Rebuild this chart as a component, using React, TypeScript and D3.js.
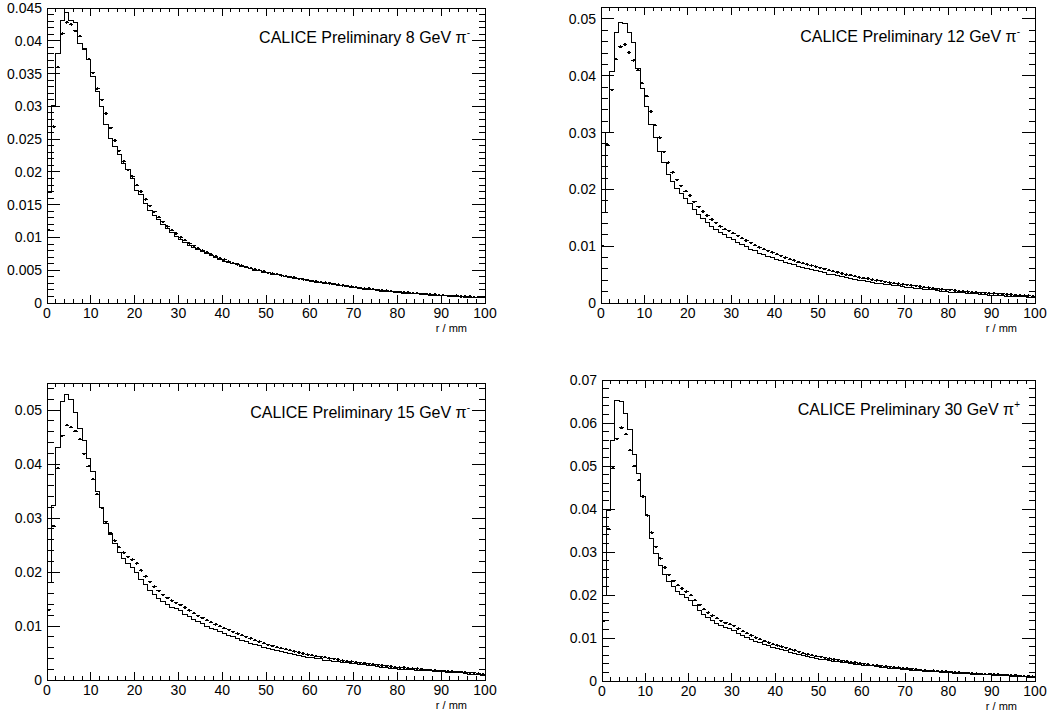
import React from "react";
import * as d3 from "d3";

// ---------- data (bin contents, 1 mm bins from 0 to 100 mm) ----------
const hist8 = [
  0.0168, 0.0302, 0.0381, 0.0431, 0.0443, 0.0431, 0.0428, 0.0396, 0.0388, 0.0372,
  0.0345, 0.0322, 0.0299, 0.0273, 0.0251, 0.0238, 0.0226, 0.0213, 0.0203, 0.0190,
  0.0172, 0.0165, 0.0152, 0.0141, 0.0134, 0.0127, 0.0119, 0.0113, 0.0108, 0.0102,
  0.0097, 0.0093, 0.0088, 0.0085, 0.0081, 0.0078, 0.0075, 0.0072, 0.0069, 0.0066,
  0.0064, 0.0062, 0.0060, 0.0058, 0.0056, 0.0054, 0.0052, 0.0050, 0.0049, 0.0047,
  0.0046, 0.0044, 0.0043, 0.0042, 0.0040, 0.0039, 0.0038, 0.0037, 0.0036, 0.0035,
  0.0033, 0.0032, 0.0031, 0.0030, 0.0029, 0.0028, 0.0027, 0.0026, 0.0025, 0.0024,
  0.0023, 0.0022, 0.0021, 0.0021, 0.0020, 0.0019, 0.0018, 0.0018, 0.0017, 0.0016,
  0.0016, 0.0015, 0.0015, 0.0014, 0.0014, 0.0013, 0.0013, 0.0012, 0.0012, 0.0011,
  0.0011, 0.0011, 0.0010, 0.0010, 0.0010, 0.0009, 0.0009, 0.0009, 0.0008, 0.0008,
];
const data8 = [
  0.0111, 0.0269, 0.0360, 0.0411, 0.0428, 0.0425, 0.0415, 0.0407, 0.0387, 0.0372,
  0.0351, 0.0327, 0.0310, 0.0289, 0.0267, 0.0248, 0.0232, 0.0216, 0.0203, 0.0193,
  0.0180, 0.0170, 0.0158, 0.0148, 0.0139, 0.0131, 0.0124, 0.0117, 0.0111, 0.0106,
  0.0100, 0.0096, 0.0091, 0.0087, 0.0083, 0.0080, 0.0077, 0.0074, 0.0071, 0.0068,
  0.0066, 0.0063, 0.0061, 0.0059, 0.0057, 0.0055, 0.0053, 0.0051, 0.0050, 0.0048,
  0.0046, 0.0045, 0.0044, 0.0042, 0.0041, 0.0040, 0.0039, 0.0037, 0.0036, 0.0035,
  0.0034, 0.0033, 0.0032, 0.0031, 0.0030, 0.0029, 0.0028, 0.0027, 0.0026, 0.0025,
  0.0024, 0.0023, 0.0022, 0.0022, 0.0021, 0.0020, 0.0019, 0.0019, 0.0018, 0.0017,
  0.0017, 0.0016, 0.0016, 0.0015, 0.0015, 0.0014, 0.0014, 0.0013, 0.0013, 0.0012,
  0.0012, 0.0011, 0.0011, 0.0011, 0.0010, 0.0010, 0.0010, 0.0009, 0.0009, 0.0009,
];
const hist12 = [
  0.0160, 0.0300, 0.0407, 0.0476, 0.0493, 0.0492, 0.0476, 0.0458, 0.0413, 0.0378,
  0.0346, 0.0315, 0.0292, 0.0266, 0.0247, 0.0227, 0.0214, 0.0202, 0.0192, 0.0184,
  0.0176, 0.0165, 0.0156, 0.0148, 0.0141, 0.0135, 0.0129, 0.0124, 0.0120, 0.0116,
  0.0112, 0.0107, 0.0103, 0.0099, 0.0095, 0.0092, 0.0088, 0.0085, 0.0082, 0.0080,
  0.0077, 0.0074, 0.0072, 0.0069, 0.0067, 0.0065, 0.0063, 0.0061, 0.0059, 0.0057,
  0.0055, 0.0053, 0.0051, 0.0050, 0.0048, 0.0046, 0.0045, 0.0043, 0.0042, 0.0040,
  0.0039, 0.0038, 0.0036, 0.0035, 0.0034, 0.0033, 0.0032, 0.0031, 0.0030, 0.0029,
  0.0028, 0.0027, 0.0026, 0.0025, 0.0024, 0.0023, 0.0023, 0.0022, 0.0021, 0.0020,
  0.0019, 0.0019, 0.0018, 0.0018, 0.0017, 0.0016, 0.0016, 0.0015, 0.0015, 0.0014,
  0.0014, 0.0013, 0.0013, 0.0012, 0.0012, 0.0012, 0.0011, 0.0011, 0.0010, 0.0010,
];
const data12 = [
  0.0100, 0.0278, 0.0375, 0.0429, 0.0451, 0.0455, 0.0441, 0.0427, 0.0410, 0.0387,
  0.0364, 0.0337, 0.0313, 0.0291, 0.0266, 0.0247, 0.0230, 0.0217, 0.0206, 0.0197,
  0.0189, 0.0178, 0.0169, 0.0161, 0.0154, 0.0147, 0.0141, 0.0135, 0.0130, 0.0127,
  0.0123, 0.0118, 0.0114, 0.0110, 0.0106, 0.0102, 0.0098, 0.0095, 0.0092, 0.0089,
  0.0086, 0.0083, 0.0080, 0.0077, 0.0075, 0.0072, 0.0070, 0.0068, 0.0066, 0.0064,
  0.0062, 0.0060, 0.0058, 0.0056, 0.0054, 0.0052, 0.0050, 0.0049, 0.0047, 0.0045,
  0.0044, 0.0043, 0.0041, 0.0040, 0.0039, 0.0037, 0.0036, 0.0035, 0.0034, 0.0033,
  0.0032, 0.0031, 0.0030, 0.0029, 0.0028, 0.0027, 0.0026, 0.0025, 0.0024, 0.0023,
  0.0023, 0.0022, 0.0021, 0.0021, 0.0020, 0.0019, 0.0019, 0.0018, 0.0018, 0.0017,
  0.0017, 0.0016, 0.0016, 0.0015, 0.0015, 0.0014, 0.0014, 0.0013, 0.0013, 0.0012,
];
const hist15 = [
  0.0180, 0.0324, 0.0431, 0.0515, 0.0529, 0.0520, 0.0495, 0.0466, 0.0443, 0.0411,
  0.0386, 0.0350, 0.0319, 0.0290, 0.0269, 0.0252, 0.0237, 0.0225, 0.0215, 0.0209,
  0.0200, 0.0187, 0.0176, 0.0166, 0.0158, 0.0151, 0.0145, 0.0140, 0.0135, 0.0132,
  0.0128, 0.0122, 0.0117, 0.0112, 0.0108, 0.0104, 0.0100, 0.0096, 0.0093, 0.0090,
  0.0087, 0.0083, 0.0080, 0.0077, 0.0074, 0.0071, 0.0068, 0.0066, 0.0063, 0.0061,
  0.0059, 0.0057, 0.0055, 0.0053, 0.0051, 0.0049, 0.0047, 0.0045, 0.0044, 0.0042,
  0.0041, 0.0040, 0.0039, 0.0037, 0.0036, 0.0035, 0.0034, 0.0033, 0.0032, 0.0031,
  0.0030, 0.0029, 0.0028, 0.0027, 0.0026, 0.0025, 0.0024, 0.0023, 0.0022, 0.0021,
  0.0020, 0.0020, 0.0019, 0.0019, 0.0018, 0.0018, 0.0017, 0.0017, 0.0016, 0.0016,
  0.0015, 0.0014, 0.0014, 0.0013, 0.0013, 0.0012, 0.0011, 0.0011, 0.0010, 0.0009,
];
const data15 = [
  0.0130, 0.0285, 0.0392, 0.0452, 0.0472, 0.0468, 0.0461, 0.0446, 0.0419, 0.0396,
  0.0372, 0.0344, 0.0319, 0.0293, 0.0272, 0.0258, 0.0246, 0.0236, 0.0228, 0.0223,
  0.0216, 0.0203, 0.0192, 0.0182, 0.0173, 0.0165, 0.0158, 0.0152, 0.0147, 0.0143,
  0.0139, 0.0134, 0.0129, 0.0124, 0.0119, 0.0115, 0.0111, 0.0107, 0.0103, 0.0100,
  0.0096, 0.0093, 0.0089, 0.0086, 0.0083, 0.0080, 0.0077, 0.0074, 0.0071, 0.0068,
  0.0065, 0.0063, 0.0061, 0.0059, 0.0057, 0.0055, 0.0053, 0.0051, 0.0049, 0.0047,
  0.0046, 0.0044, 0.0043, 0.0042, 0.0040, 0.0039, 0.0038, 0.0036, 0.0035, 0.0034,
  0.0033, 0.0032, 0.0031, 0.0030, 0.0029, 0.0028, 0.0027, 0.0026, 0.0025, 0.0024,
  0.0023, 0.0023, 0.0022, 0.0021, 0.0021, 0.0020, 0.0019, 0.0019, 0.0018, 0.0017,
  0.0017, 0.0016, 0.0016, 0.0015, 0.0015, 0.0014, 0.0013, 0.0013, 0.0012, 0.0011,
];
const hist30 = [
  0.0200, 0.0396, 0.0560, 0.0652, 0.0650, 0.0621, 0.0585, 0.0526, 0.0483, 0.0430,
  0.0386, 0.0332, 0.0296, 0.0268, 0.0248, 0.0232, 0.0219, 0.0209, 0.0201, 0.0195,
  0.0188, 0.0175, 0.0164, 0.0155, 0.0147, 0.0140, 0.0134, 0.0129, 0.0124, 0.0121,
  0.0117, 0.0111, 0.0106, 0.0101, 0.0097, 0.0093, 0.0089, 0.0085, 0.0082, 0.0079,
  0.0076, 0.0073, 0.0070, 0.0067, 0.0064, 0.0062, 0.0059, 0.0057, 0.0055, 0.0053,
  0.0051, 0.0049, 0.0048, 0.0046, 0.0045, 0.0043, 0.0042, 0.0041, 0.0039, 0.0038,
  0.0037, 0.0036, 0.0035, 0.0033, 0.0032, 0.0031, 0.0030, 0.0029, 0.0028, 0.0027,
  0.0026, 0.0025, 0.0025, 0.0024, 0.0023, 0.0022, 0.0022, 0.0021, 0.0020, 0.0020,
  0.0019, 0.0018, 0.0018, 0.0017, 0.0017, 0.0016, 0.0016, 0.0015, 0.0015, 0.0014,
  0.0013, 0.0013, 0.0012, 0.0012, 0.0011, 0.0011, 0.0010, 0.0010, 0.0009, 0.0008,
];
const data30 = [
  0.0140, 0.0353, 0.0495, 0.0563, 0.0589, 0.0574, 0.0537, 0.0500, 0.0467, 0.0429,
  0.0385, 0.0345, 0.0312, 0.0285, 0.0264, 0.0247, 0.0233, 0.0223, 0.0215, 0.0208,
  0.0200, 0.0188, 0.0177, 0.0167, 0.0159, 0.0152, 0.0146, 0.0140, 0.0135, 0.0132,
  0.0128, 0.0122, 0.0116, 0.0111, 0.0106, 0.0101, 0.0097, 0.0093, 0.0089, 0.0086,
  0.0083, 0.0080, 0.0077, 0.0074, 0.0071, 0.0068, 0.0065, 0.0062, 0.0060, 0.0058,
  0.0056, 0.0054, 0.0052, 0.0050, 0.0049, 0.0047, 0.0046, 0.0044, 0.0043, 0.0041,
  0.0040, 0.0039, 0.0037, 0.0036, 0.0035, 0.0034, 0.0033, 0.0032, 0.0031, 0.0030,
  0.0029, 0.0028, 0.0027, 0.0026, 0.0025, 0.0024, 0.0024, 0.0023, 0.0022, 0.0022,
  0.0021, 0.0020, 0.0020, 0.0019, 0.0019, 0.0018, 0.0017, 0.0017, 0.0016, 0.0016,
  0.0015, 0.0015, 0.0014, 0.0014, 0.0013, 0.0013, 0.0012, 0.0011, 0.0011, 0.0010,
];

const energies = ["8", "12", "15", "30"];
const charges = ["-", "-", "-", "+"];
const yMaxes = [0.045, 0.0521, 0.055, 0.07];
const yMajorSteps = [0.005, 0.01, 0.01, 0.01];
const xTickLabels = ["0", "10", "20", "30", "40", "50", "60", "70", "80", "90", "100"];
const xTitle = "r / mm";
const BIN_WIDTH = 1;

// ---------- layout ----------
const W = 1049;
const H = 713;
const FONT = "'Liberation Sans', Arial, Helvetica, sans-serif";
const frames = [
  { left: 47, right: 485, top: 8, bottom: 303 },
  { left: 601, right: 1035, top: 7, bottom: 303 },
  { left: 47, right: 485, top: 383, bottom: 680 },
  { left: 602, right: 1035, top: 380, bottom: 681 },
];
const histSets = [hist8, hist12, hist15, hist30];
const dataSets = [data8, data12, data15, data30];

function fmt(v: number) {
  return (+v.toFixed(4)).toString();
}

function Panel({ idx }: { idx: number }) {
  const f = frames[idx];
  const hist = histSets[idx];
  const dat = dataSets[idx];
  const yMax = yMaxes[idx];
  const step = yMajorSteps[idx];
  const x = d3.scaleLinear().domain([0, 100]).range([f.left, f.right]);
  const y = d3.scaleLinear().domain([0, yMax]).range([f.bottom, f.top]);

  const pts: [number, number][] = [[0, 0]];
  hist.forEach((v, i) => pts.push([i * BIN_WIDTH, v]));
  pts.push([hist.length * BIN_WIDTH, hist[hist.length - 1]]);
  pts.push([hist.length * BIN_WIDTH, 0]);
  const line = d3
    .line<[number, number]>()
    .x((d) => x(d[0]))
    .y((d) => y(d[1]))
    .curve(d3.curveStepAfter);

  const xMajor = d3.range(0, 101, 10);
  const xMinor = d3.range(0, 101, 2).filter((v) => v % 10 !== 0);
  const nMaj = Math.floor(yMax / step + 1e-6);
  const yMajor = d3.range(0, nMaj + 1).map((k) => k * step);
  const minorStep = step / 5;
  const nMin = Math.floor(yMax / minorStep + 1e-6);
  const yMinor = d3
    .range(0, nMin + 1)
    .map((k) => k * minorStep)
    .filter((_, k) => k % 5 !== 0);

  const xTL = 8, xTLm = 4;
  const yTL = 13, yTLm = 6.5;

  return (
    <g>
      {dat.map((v, i) => {
        const cx = x((i + 0.5) * BIN_WIDTH);
        const cy = y(v);
        return (
          <g key={"p" + i}>
            <line x1={cx - 2.2} x2={cx + 2.2} y1={cy} y2={cy} stroke="#000" strokeWidth={1} />
            <circle cx={cx} cy={cy} r={1.3} fill="#000" />
          </g>
        );
      })}
      <path d={line(pts) || ""} fill="none" stroke="#000" strokeWidth={1} />
      <rect
        x={f.left}
        y={f.top}
        width={f.right - f.left}
        height={f.bottom - f.top}
        fill="none"
        stroke="#000"
        strokeWidth={1}
      />
      {xMajor.map((v) => (
        <g key={"xm" + v}>
          <line x1={x(v)} x2={x(v)} y1={f.bottom} y2={f.bottom - xTL} stroke="#000" />
          <line x1={x(v)} x2={x(v)} y1={f.top} y2={f.top + xTL} stroke="#000" />
        </g>
      ))}
      {xMinor.map((v) => (
        <g key={"xn" + v}>
          <line x1={x(v)} x2={x(v)} y1={f.bottom} y2={f.bottom - xTLm} stroke="#000" />
          <line x1={x(v)} x2={x(v)} y1={f.top} y2={f.top + xTLm} stroke="#000" />
        </g>
      ))}
      {xMajor.map((v, k) => (
        <text
          key={"xl" + v}
          x={x(v)}
          y={f.bottom + 15}
          textAnchor="middle"
          fontSize={14}
          fontFamily={FONT}
        >
          {xTickLabels[k]}
        </text>
      ))}
      <text x={f.right - 18} y={f.bottom + 29} textAnchor="end" fontSize={11} fontFamily={FONT}>
        {xTitle}
      </text>
      {yMajor.map((v) => (
        <g key={"ym" + v}>
          <line x1={f.left} x2={f.left + yTL} y1={y(v)} y2={y(v)} stroke="#000" />
          <line x1={f.right} x2={f.right - yTL} y1={y(v)} y2={y(v)} stroke="#000" />
          <text x={f.left - 5} y={y(v) + 5} textAnchor="end" fontSize={14} fontFamily={FONT}>
            {fmt(v)}
          </text>
        </g>
      ))}
      {yMinor.map((v) => (
        <g key={"yn" + v}>
          <line x1={f.left} x2={f.left + yTLm} y1={y(v)} y2={y(v)} stroke="#000" />
          <line x1={f.right} x2={f.right - yTLm} y1={y(v)} y2={y(v)} stroke="#000" />
        </g>
      ))}
      <text x={f.right - 15} y={f.top + 35} textAnchor="end" fontSize={16} fontFamily={FONT}>
        {`CALICE Preliminary ${energies[idx]} GeV \u03C0`}
        <tspan fontSize={10} dy={-7}>
          {charges[idx]}
        </tspan>
      </text>
    </g>
  );
}

export default function App() {
  return (
    <svg
      width={W}
      height={H}
      style={{ position: "absolute", left: 0, top: 0, background: "#fff" }}
      shapeRendering="crispEdges"
    >
      <rect x={0} y={0} width={W} height={H} fill="#fff" />
      {[0, 1, 2, 3].map((i) => (
        <Panel key={i} idx={i} />
      ))}
    </svg>
  );
}
